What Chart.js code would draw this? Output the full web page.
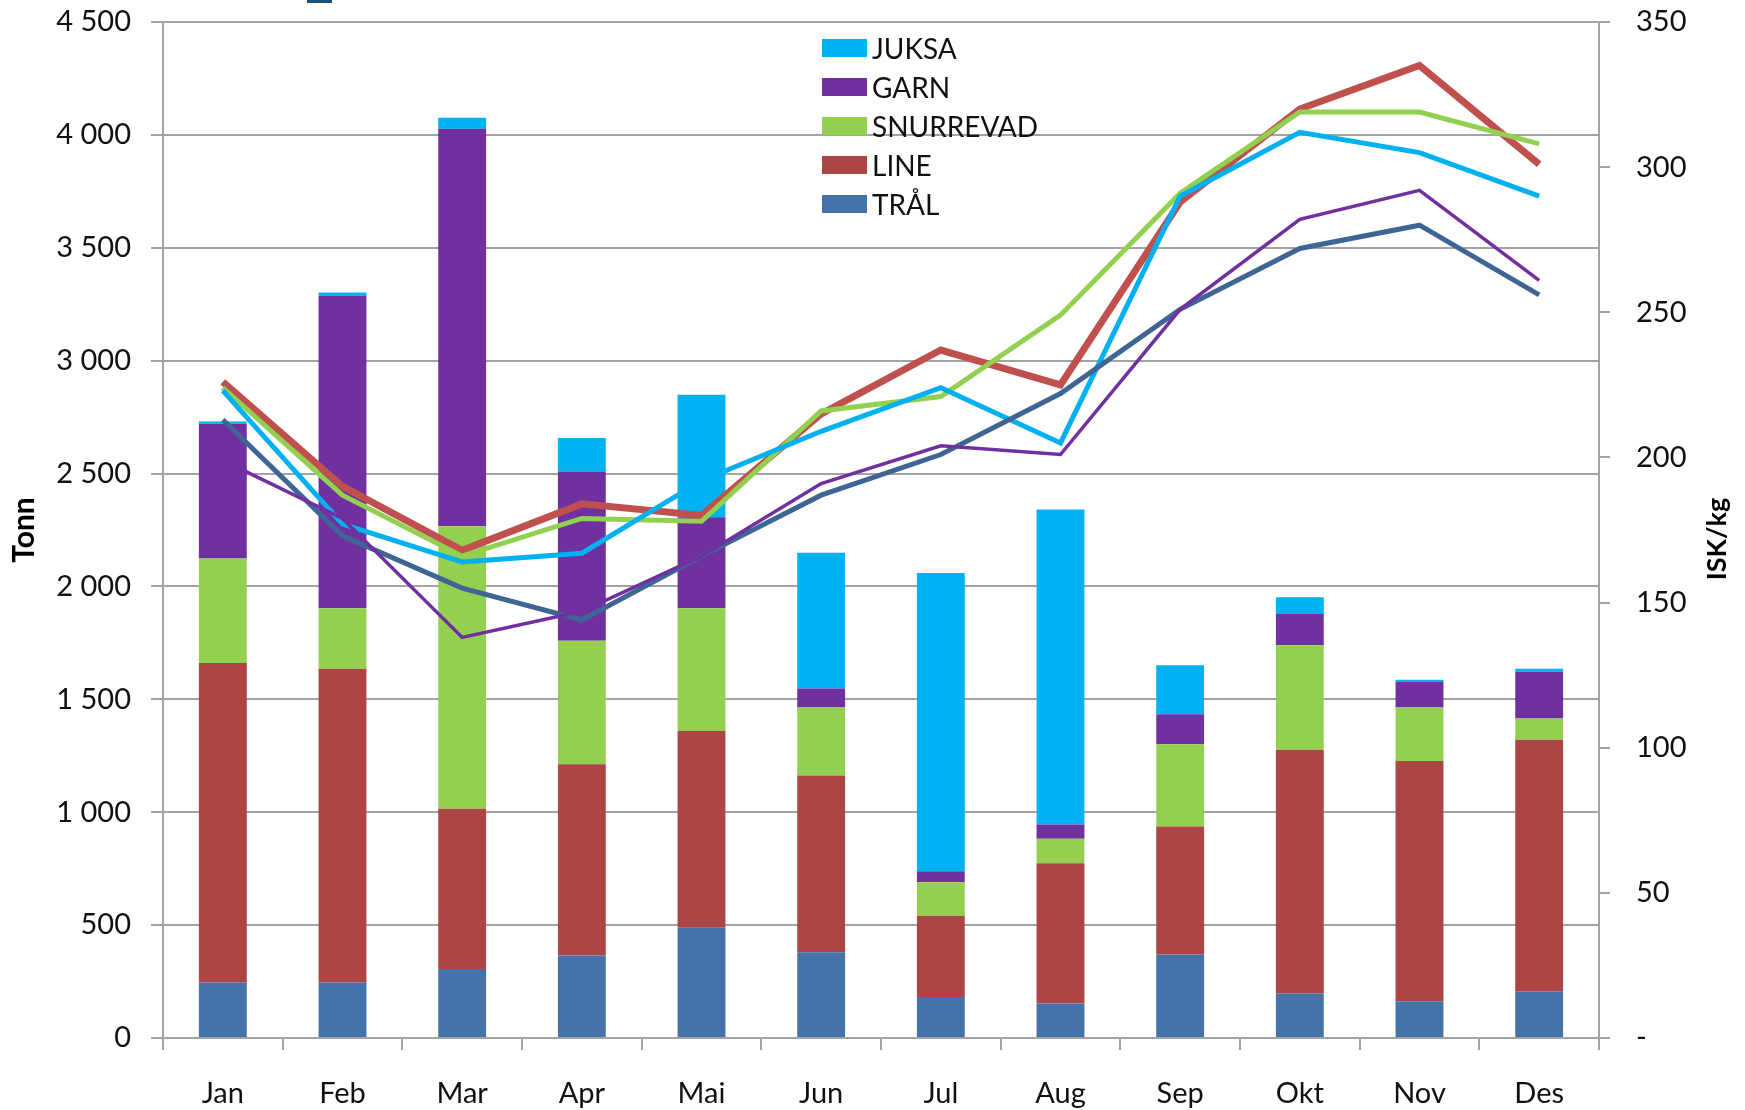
<!DOCTYPE html>
<html>
<head>
<meta charset="utf-8">
<script src="https://cdn.jsdelivr.net/npm/chart.js@4.4.1/dist/chart.umd.min.js"></script>
<style>
  html, body { margin: 0; padding: 0; background: #fff; }
  #wrap { position: relative; width: 1745px; height: 1110px; }
  #legend { position: absolute; left: 822px; top: 28px; font-family: Lato, sans-serif; font-size: 28px; color: #111; }
  #legend div { height: 39px; display: flex; align-items: center; }
  #legend span.box { display: inline-block; width: 45px; height: 18px; margin-right: 5px; }
  #crop { position: absolute; left: 307px; top: 0; width: 25px; height: 3px; background: #1f4e79; }
</style>
</head>
<body>
<div id="wrap">
  <canvas id="chart" width="1745" height="1110"></canvas>
  <div id="legend"></div>
  <div id="crop"></div>
</div>
<script>
// ─── DATA ───────────────────────────────────
const months = ['Jan', 'Feb', 'Mar', 'Apr', 'Mai', 'Jun', 'Jul', 'Aug', 'Sep', 'Okt', 'Nov', 'Des'];

// tonn per gear (stacked bars, bottom to top)
const tralTonn  = [246, 246, 306, 365, 488, 380, 182, 153, 370, 197, 163, 207];
const lineTonn  = [1415, 1390, 709, 848, 872, 783, 360, 621, 567, 1080, 1064, 1114];
const snurTonn  = [463, 267, 1252, 547, 543, 301, 148, 108, 364, 463, 237, 94];
const garnTonn  = [597, 1385, 1760, 749, 404, 84, 49, 64, 133, 138, 113, 207];
const juksaTonn = [10, 14, 49, 148, 542, 601, 1321, 1395, 217, 74, 10, 14];

// price per gear, ISK/kg (lines)
const tralPris  = [213, 173, 155, 144, 166, 187, 201, 222, 251, 272, 280, 256];
const linePris  = [226, 190, 168, 184, 180, 215, 237, 225, 288, 320, 335, 301];
const snurPris  = [224, 187, 166, 179, 178, 216, 221, 249, 291, 319, 319, 308];
const garnPris  = [199, 179, 138, 147, 166, 191, 204, 201, 251, 282, 292, 261];
const juksaPris = [223, 177, 164, 167, 192, 209, 224, 205, 290, 312, 305, 290];

const leftTicks  = [0, 500, 1000, 1500, 2000, 2500, 3000, 3500, 4000, 4500];
const rightTicks = [0, 50, 100, 150, 200, 250, 300, 350];

const gearNames = ['JUKSA', 'GARN', 'SNURREVAD', 'LINE', 'TRÅL'];
const barColors = {
  'TRÅL': '#4672aa', 'LINE': '#ad4545', 'SNURREVAD': '#94d050', 'GARN': '#7030a0', 'JUKSA': '#00b2f2'
};
const lineColors = {
  'TRÅL': '#3f6595', 'LINE': '#c0504d', 'SNURREVAD': '#92d050', 'GARN': '#7030a0', 'JUKSA': '#00b0f0'
};

// ─── CHART ───────────────────────────────────
const GRID = '#a3a3a3';
const FONT = 'Lato, sans-serif';

function fmtTonn(v) {
  if (v < 1000) return String(v);
  return Math.floor(v / 1000) + ' ' + String(v % 1000).padStart(3, '0');
}

function bar(label, data) {
  return { type: 'bar', label, data, yAxisID: 'y', order: 1,
    backgroundColor: barColors[label], borderWidth: 0,
    barPercentage: 0.4, categoryPercentage: 1.0 };
}
function line(label, data, w) {
  return { type: 'line', label: label + ' pris', data, yAxisID: 'y1', order: 0,
    borderColor: lineColors[label], borderWidth: w, pointRadius: 0,
    tension: 0, fill: false };
}

// vertical axes: fixed width, and no extra top/bottom room for the tick padding
function fitSide(width) {
  return s => { s.width = width; s.paddingTop = 22; s.paddingBottom = 0; };
}

const rightTitle = {
  id: 'rightTitle',
  afterDraw(chart) {
    const { ctx, chartArea } = chart;
    ctx.save();
    ctx.translate(1717, (chartArea.top + chartArea.bottom) / 2 + 9);
    ctx.rotate(-Math.PI / 2);
    ctx.font = 'bold 27px ' + FONT;
    ctx.fillStyle = '#000';
    ctx.textAlign = 'center';
    ctx.textBaseline = 'middle';
    ctx.fillText('ISK/kg', 0, 0);
    ctx.restore();
  }
};

new Chart(document.getElementById('chart'), {
  data: {
    labels: months,
    datasets: [
      line('GARN', garnPris, 3.5),
      line('TRÅL', tralPris, 5),
      line('JUKSA', juksaPris, 5),
      line('SNURREVAD', snurPris, 5),
      line('LINE', linePris, 7),
      bar('TRÅL', tralTonn),
      bar('LINE', lineTonn),
      bar('SNURREVAD', snurTonn),
      bar('GARN', garnTonn),
      bar('JUKSA', juksaTonn),
    ]
  },
  options: {
    responsive: false,
    animation: false,
    layout: { padding: 0 },
    plugins: { legend: { display: false }, tooltip: { enabled: false } },
    scales: {
      x: {
        stacked: true,
        offset: true,
        grid: { drawOnChartArea: false, color: GRID, lineWidth: 2, tickLength: 12, offset: true },
        border: { color: GRID, width: 2 },
        ticks: { color: '#111', font: { family: FONT, size: 29 }, padding: 26, maxRotation: 0 },
        afterFit: s => { s.height = 72; }
      },
      y: {
        stacked: true,
        min: 0, max: 4500,
        afterBuildTicks: s => { s.ticks = leftTicks.map(v => ({ value: v })); },
        grid: { color: GRID, lineWidth: 2, tickLength: 12 },
        border: { color: GRID, width: 2 },
        ticks: { color: '#111', font: { family: FONT, size: 29 }, padding: 20, callback: v => fmtTonn(v) },
        title: { display: true, text: 'Tonn', color: '#000', font: { family: FONT, size: 30, weight: 'bold' }, padding: { top: 6 } },
        afterFit: fitSide(163)
      },
      y1: {
        position: 'right',
        min: 0, max: 350,
        afterBuildTicks: s => { s.ticks = rightTicks.map(v => ({ value: v })); },
        grid: { drawOnChartArea: false, color: GRID, lineWidth: 2, tickLength: 11 },
        border: { color: GRID, width: 2 },
        ticks: { color: '#111', font: { family: FONT, size: 29 }, padding: 26, callback: v => v === 0 ? '-' : String(v) },
        afterFit: fitSide(146)
      }
    }
  },
  plugins: [rightTitle]
});

// legend (bar series only, top series first)
const legend = document.getElementById('legend');
gearNames.forEach(name => {
  const row = document.createElement('div');
  row.innerHTML = '<span class="box" style="background:' + barColors[name] + '"></span>' + name;
  legend.appendChild(row);
});
</script>
</body>
</html>
